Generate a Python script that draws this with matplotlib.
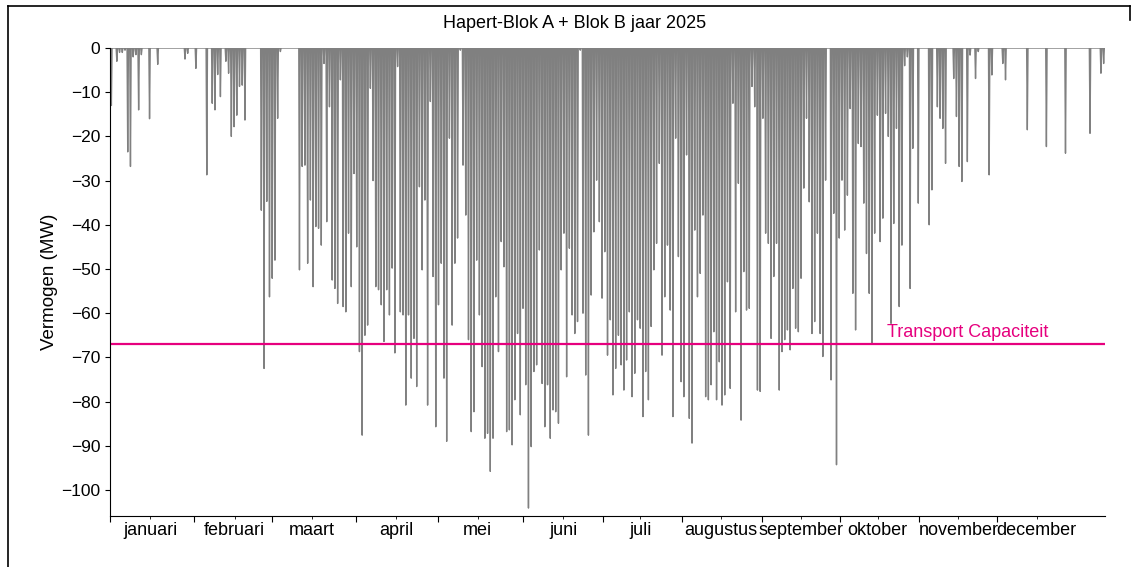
import numpy as np
import matplotlib
matplotlib.use("Agg")
import matplotlib.pyplot as plt
from matplotlib.lines import Line2D


TITLE = "Hapert-Blok A + Blok B jaar 2025"
CAPACITY = -67.0  # transport capacity (MW)

# daily peak feed-in (MW), one value per day slot
daily_min = [
    -13, 0, -3, -1, -1, -0.5, -23.5, -26.8, -2, -1.5,
    -14, -1.5, 0, 0, -16, 0, 0, -3.7, 0, 0,
    0, 0, 0, 0, 0, 0, 0, -2.5, -1.2, 0,
    0, -4.6, 0, 0, 0, -28.7, 0, -12.5, -14, -6,
    -11, 0, -3, -5.7, -20, -17.8, -15.2, -8.7, -8.4, -16.3,
    0, 0, 0, 0, 0, -36.7, -72.5, -34.7, -56.3, -52.1,
    -48, -15.9, -0.8, 0, 0, 0, 0, 0, 0, -50.2,
    -26.8, -26.5, -48.7, -34.4, -54, -40.4, -40.8, -44.6, -3.5, -39.3,
    -13.3, -52.5, -54.4, -57.8, -7.2, -58.5, -59.7, -41.9, -54, -28.4,
    -45, -68.7, -87.6, -65, -62.7, -9.1, -30, -54, -54.7, -58.1,
    -66.4, -54.7, -60.4, -49.8, -69, -4.2, -59.7, -60.4, -80.8, -60.4,
    -74.7, -65.7, -76.6, -31.4, -50.2, -34.4, -80.8, -12.1, -51.7, -85.7,
    -58.1, -48.7, -74.7, -89, -20.4, -62.7, -48.7, -43, -0.5, -26.5,
    -37.8, -66, -86.8, -82.3, -48, -60.4, -72.1, -88.3, -87.2, -95.8,
    -88.3, -56.3, -68.7, -43.8, -49.5, -86.8, -86.4, -89.8, -79.6, -64.6,
    -83, -58.9, -76.2, -104.1, -90.2, -73.2, -71.7, -45.7, -75.9, -85.7,
    -76.2, -88.3, -81.9, -82.3, -84.9, -50.2, -41.9, -74.4, -45.3, -60.4,
    -64.6, -61.9, -0.5, -60, -74, -87.6, -55.9, -41.6, -29.9, -39.3,
    -56.6, -46.1, -69.5, -61.5, -78.5, -72.5, -65, -71.7, -77.4, -70.6,
    -59.7, -78.9, -73.6, -61.5, -63.4, -83.4, -73.2, -79.6, -63, -50.2,
    -44.2, -26.1, -69.5, -56.3, -44.6, -59.3, -83.4, -20.4, -47.2, -75.5,
    -78.9, -24.2, -83.8, -89.4, -41.2, -56.3, -51, -37.8, -78.9, -79.6,
    -76.2, -64.2, -79.6, -71, -80.8, -78.5, -52.9, -77, -12.5, -59.7,
    -30.6, -84.2, -50.6, -59.3, -58.9, -8.7, -13.3, -77.4, -77.7, -15.9,
    -41.9, -44.2, -65.7, -51.7, -44.2, -77.4, -68.7, -66, -63.8, -68.3,
    -54.4, -63.4, -64.2, -52.1, -31.7, -15.9, -34.8, -64.6, -61.9, -41.9,
    -64.6, -69.8, -29.9, 0, -75.1, -37.4, -94.3, -43, -29.9, -41.2,
    -33.3, -13.7, -55.5, -63.8, -21.6, -22.3, -35.1, -46.5, -55.5, -66.8,
    -41.9, -15.2, -43.8, -38.5, -14.8, -20, -62.3, -39.7, -18.2, -58.5,
    -44.6, -4, -2, -54.4, -22.7, 0, -35.1, 0, 0, 0,
    -40, -32.1, 0, -13.3, -15.9, -18.2, -26.1, 0, 0, -6.9,
    -15.5, -26.8, -30.2, 0, -25.7, -1.6, 0, -6.9, -0.8, 0,
    0, 0, -28.7, -6.1, 0, 0, 0, -3.5, -7.2, 0,
    0, 0, 0, 0, 0, 0, -18.5, 0, 0, 0,
    0, 0, 0, -22.3, 0, 0, 0, 0, 0, 0,
    -23.8, 0, 0, 0, 0, 0, 0, 0, 0, -19.3,
    0, 0, 0, -5.7, -3.5,
]

months = ["januari", "februari", "maart", "april", "mei", "juni", "juli",
          "augustus", "september", "oktober", "november", "december"]
# month boundaries / label positions in day-slot units, as on the chart
month_starts = [0, 30.8, 59.4, 90.2, 120.3, 151.5, 180.8, 209.8, 239.2, 267.8, 296.8, 325.4]
month_mids = [14.8, 45.7, 74.0, 105.0, 134.9, 166.2, 194.6, 224.0, 253.4, 281.6, 311.2, 339.9]


plt.rcParams["font.family"] = ["Liberation Sans", "DejaVu Sans"]

fig = plt.figure(figsize=(11.33, 5.67), dpi=100)
ax = fig.add_axes([0.0971, 0.0899, 0.8782, 0.8254])

# each day drawn as a narrow spike from 0 down to the daily peak
mins = np.array(daily_min, dtype=float)
days = np.arange(len(mins))
xs = np.column_stack([days + 0.25, days + 0.5, days + 0.75]).ravel()
ys = np.column_stack([np.zeros_like(mins), mins, np.zeros_like(mins)]).ravel()
ax.plot(xs, ys, color="#808080", linewidth=1.0)

ax.axhline(CAPACITY, color="#E6007E", linewidth=1.6)
ax.text(285, CAPACITY + 1.6, "Transport Capaciteit", color="#E6007E", fontsize=13)

ax.set_xlim(0, 365)
ax.set_ylim(-105.9, 0)
ax.set_yticks(np.arange(-100, 1, 10))
ax.tick_params(axis="y", labelsize=12.5)

ax.set_xticks(month_starts)
ax.set_xticklabels([])
ax.set_xticks(month_mids, minor=True)
ax.set_xticklabels(months, minor=True, fontsize=13)
ax.tick_params(axis="x", which="major", length=4)
ax.tick_params(axis="x", which="minor", length=2, pad=2)

ax.set_ylabel("Vermogen (MW)", fontsize=13.5, labelpad=2)
ax.spines["top"].set_visible(False)
ax.spines["right"].set_visible(False)

fig.text(575 / 1133, 1 - 23 / 567, TITLE, ha="center", va="center", fontsize=13)

# figure frame (left, top and a bit of the right edge)
fy = 1 - 6 / 567
fig.add_artist(Line2D([8 / 1133, 8 / 1133], [0, fy], color="black", linewidth=1.2))
fig.add_artist(Line2D([8 / 1133, 1130 / 1133], [fy, fy], color="black", linewidth=1.2))
fig.add_artist(Line2D([1130 / 1133, 1130 / 1133], [fy, 1 - 20 / 567], color="black", linewidth=1.2))

fig.savefig("out.png", dpi=100)
